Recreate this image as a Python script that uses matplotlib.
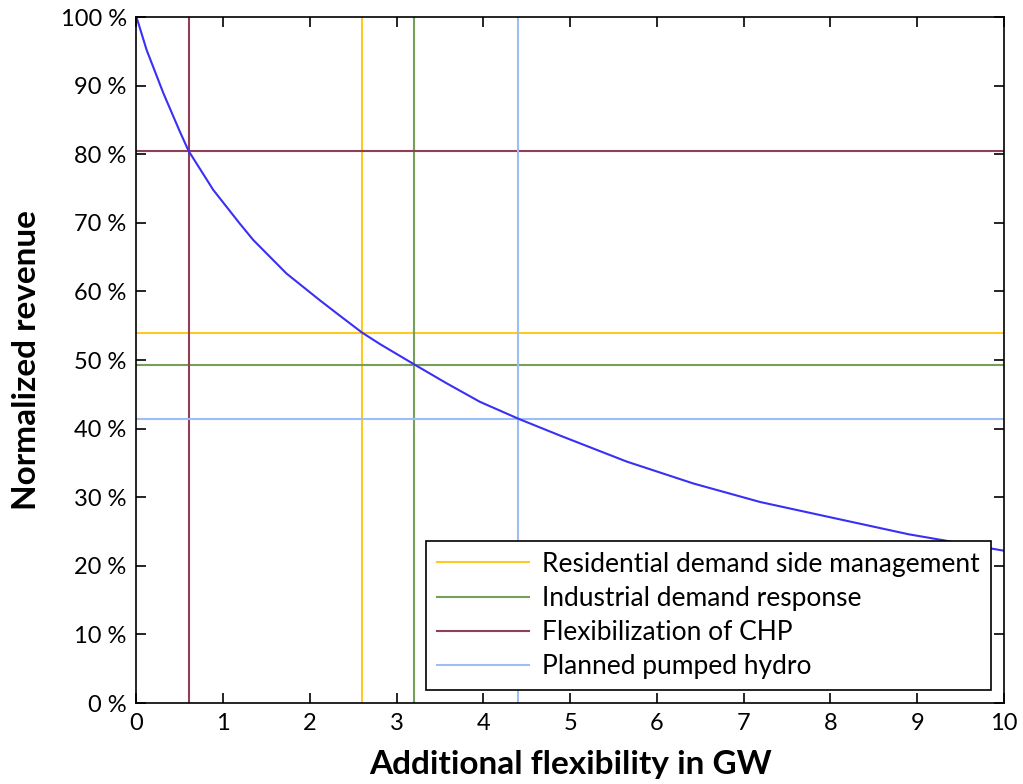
import matplotlib
matplotlib.use("Agg")
import matplotlib.pyplot as plt
from matplotlib.ticker import FuncFormatter

plt.rcParams['font.family'] = ['Lato', 'DejaVu Sans']

# revenue curve (GW, %)
flex_gw = [0, 0.117, 0.31, 0.5, 0.6, 0.885, 1.19, 1.346, 1.73, 2.115, 2.33, 2.6,
           2.81, 3.21, 3.576, 3.96, 4.41, 4.88, 5.65, 6.42, 7.19, 7.88, 8.9, 10]
revenue = [100, 95.2, 88.9, 83.3, 80.5, 74.8, 69.9, 67.5, 62.6, 58.7, 56.6, 54.0,
           52.3, 49.3, 46.6, 43.9, 41.4, 39.0, 35.2, 32.0, 29.3, 27.4, 24.6, 22.2]

# flexibility options: name, added GW, resulting revenue
options = ['Residential demand side management', 'Industrial demand response',
           'Flexibilization of CHP', 'Planned pumped hydro']
option_gw = [2.6, 3.2, 0.6, 4.4]
option_rev = [54.0, 49.3, 80.5, 41.4]
option_colors = ['#ffc825', '#76a05a', '#8e3f55', '#9dbdf7']

x_ticks = list(range(0, 11))
y_ticks = list(range(0, 101, 10))

fig = plt.figure(figsize=(10.23, 7.84), dpi=100)
ax = fig.add_axes([0.1334, 0.1033, 0.8480, 0.875])

for name, gw, rev, col in zip(options, option_gw, option_rev, option_colors):
    ax.axvline(gw, color=col, lw=1.5, label=name)
    ax.axhline(rev, color=col, lw=1.5)

ax.plot(flex_gw, revenue, color='#3a2ff5', lw=1.5)

ax.set_xlim(0, 10)
ax.set_ylim(0, 100)
ax.set_xticks(x_ticks)
ax.set_yticks(y_ticks)
ax.yaxis.set_major_formatter(FuncFormatter(lambda v, p: '%d %%' % v))
ax.tick_params(direction='in', length=7, width=1.2, top=True, right=True,
               labelsize=17, pad=7)
for s in ax.spines.values():
    s.set_linewidth(1.2)

ax.set_xlabel('Additional flexibility in GW', fontsize=24, fontweight='bold', labelpad=12)
ax.set_ylabel('Normalized revenue', fontsize=24, fontweight='bold', labelpad=14)

leg = ax.legend(loc='lower right', fontsize=19, handlelength=3.5, labelspacing=0.35,
                handletextpad=0.5, fancybox=False, edgecolor='black', framealpha=1,
                borderaxespad=0.5, borderpad=0.4)
leg.get_frame().set_linewidth(1.2)

fig.savefig('out.png', dpi=100)
